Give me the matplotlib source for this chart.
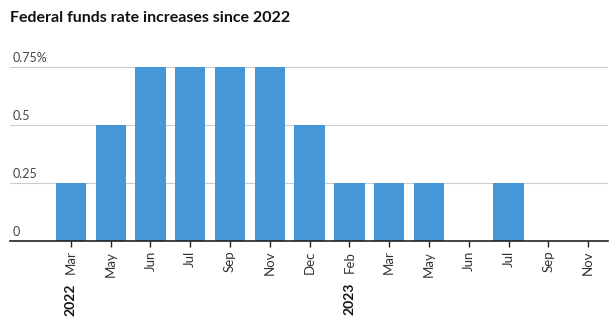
import numpy as np
import matplotlib.pyplot as plt
import matplotlib.transforms as mtransforms

# meeting months and hike sizes (percentage points)
months = ['Mar', 'May', 'Jun', 'Jul', 'Sep', 'Nov', 'Dec',
          'Feb', 'Mar', 'May', 'Jun', 'Jul', 'Sep', 'Nov']
hikes = [0.25, 0.5, 0.75, 0.75, 0.75, 0.75, 0.5,
         0.25, 0.25, 0.25, 0, 0.25, 0, 0]
years = ['2022', '2023']
year_pos = [0, 7]
yticks = [0, 0.25, 0.5, 0.75]
ytick_labels = ['0', '0.25', '0.5', '0.75%']

plt.rcParams['font.family'] = ['Lato', 'DejaVu Sans']

W, H = 616, 331
fig = plt.figure(figsize=(W / 100, H / 100), dpi=100)
x0, x1, y0 = 10, 608, 241
ymax = 0.8
px_per_unit = 232
ax = fig.add_axes([x0 / W, 1 - y0 / H, (x1 - x0) / W, ymax * px_per_unit / H])

x = np.arange(len(months))
ax.bar(x, hikes, width=0.76, color='#4597d7', zorder=2)
ax.set_xlim(-1.53, 13.5)
ax.set_ylim(0, ymax)

for s in ['top', 'right', 'left']:
    ax.spines[s].set_visible(False)
ax.spines['bottom'].set_color('#222222')
ax.spines['bottom'].set_linewidth(1.2)

for v in yticks[1:]:
    ax.axhline(v, color='#cccccc', lw=0.8, zorder=1)
ax.set_yticks([])
for v, lab in zip(yticks, ytick_labels):
    ax.text(0.004, v + 0.012, lab, transform=ax.get_yaxis_transform(),
            ha='left', va='bottom', fontsize=9, color='#444444')

ax.set_xticks(x)
ax.set_xticklabels(months, rotation=90, fontsize=9.5, color='#333333')
ax.tick_params(axis='x', length=4, width=1, color='#222222', pad=3)

trans = mtransforms.blended_transform_factory(ax.transData, fig.transFigure)
for p, yr in zip(year_pos, years):
    ax.text(p, 1 - 283 / H, yr, transform=trans, rotation=90, ha='center',
            va='top', fontsize=10, fontweight='bold', color='#111111')

fig.text(10 / W, 1 - 18 / H, 'Federal funds rate increases since 2022',
         ha='left', va='center', fontsize=11.5, fontweight='bold', color='#111111')

fig.savefig('out.png', dpi=100)
